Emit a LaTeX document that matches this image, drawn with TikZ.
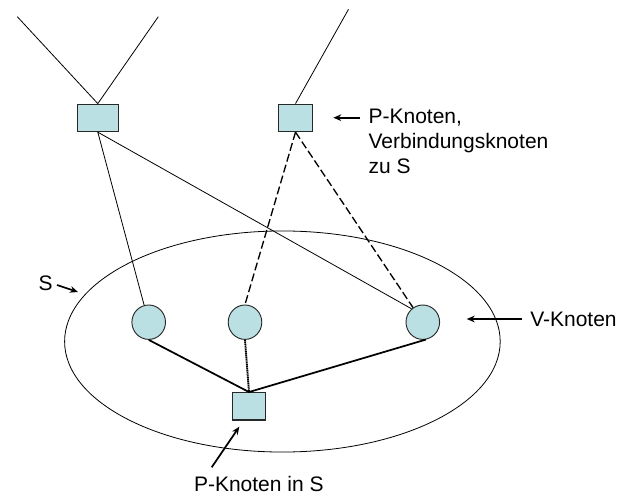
\documentclass[tikz,border=0pt]{standalone}
\usepackage{fontspec}
\setmainfont{Liberation Sans}
\usetikzlibrary{shapes.geometric,arrows.meta}
\definecolor{nodefill}{RGB}{187,224,227}
\definecolor{nodeline}{RGB}{40,40,40}
\tikzset{
  pbox/.style={draw=nodeline, fill=nodefill, line width=0.9pt, inner sep=0pt, minimum height=20.5pt},
  vnode/.style={draw=nodeline, fill=nodefill, line width=0.7pt, ellipse, inner sep=0pt, minimum width=25.2pt, minimum height=25.8pt},
  thinline/.style={line width=0.6pt},
  dashline/.style={line width=1pt, dash pattern=on 6pt off 2.5pt},
  thickline/.style={line width=1.3pt},
  dotline/.style={line width=1.4pt, dash pattern=on 1pt off 0.4pt},
  pointer/.style={line width=1.3pt, -{Stealth[length=6pt,width=5pt]}},
  lbl/.style={font=\fontsize{15.75}{18.75}\selectfont, inner sep=0pt}
}
\begin{document}
\begin{tikzpicture}[x=0.75pt,y=-0.75pt]
\useasboundingbox (0,0) rectangle (621,495);
% set ellipse
\node[draw, ellipse, line width=0.6pt, inner sep=0pt, minimum width=326.7pt, minimum height=165.8pt] (S) at (282.4,341.5) {};
% P nodes
\node[pbox, minimum width=30.6pt] (b1) at (97.8,117.9) {};
\node[pbox, minimum width=25.3pt] (b2) at (295.5,117.9) {};
\node[pbox, minimum width=25.3pt] (b3) at (249,406.3) {};
% V nodes
\node[vnode] (c1) at (148.7,322.2) {};
\node[vnode] (c2) at (245,322.2) {};
\node[vnode] (c3) at (422.8,322.2) {};
% free ends
\coordinate (t1) at (17.3,16.7);
\coordinate (t2) at (158.3,16.7);
\coordinate (t3) at (348.5,9.3);
\draw[thinline] (t1) -- (b1.north);
\draw[thinline] (t2) -- (b1.north);
\draw[thinline] (t3) -- (b2.north);
\draw[thinline] (b1.south) -- (c1);
\draw[thinline] (b1.south) -- (c3.130);
\draw[dashline] (b2.south) -- (c2.north);
\draw[dashline] (b2.south) -- (c3);
\draw[thickline] (c1.south) -- (b3.north);
\draw[dotline] (c2.south) -- (b3.north);
\draw[thickline] (c3.-80) -- (b3.north);
% labels
\node[lbl, anchor=west, align=left] (lp) at (368.3,141.5) {P-Knoten,\\Verbindungsknoten\\zu S};
\node[lbl, anchor=east] (ls) at (53,283) {S};
\node[lbl, anchor=west] (lv) at (530,319) {V-Knoten};
\node[lbl] (lpin) at (258.8,484) {P-Knoten in S};
\coordinate (ap1) at (360,117.7);
\coordinate (ap2) at (333.3,117.7);
\coordinate (as1) at (57,285);
\coordinate (as2) at (78,292);
\coordinate (av1) at (521.7,319);
\coordinate (av2) at (466.7,319);
\coordinate (ai1) at (211.7,467.3);
\coordinate (ai2) at (239.3,426.7);
\draw[pointer] (ap1) -- (ap2);
\draw[pointer] (as1) -- (as2);
\draw[pointer] (av1) -- (av2);
\draw[pointer] (ai1) -- (ai2);
\end{tikzpicture}
\end{document}
